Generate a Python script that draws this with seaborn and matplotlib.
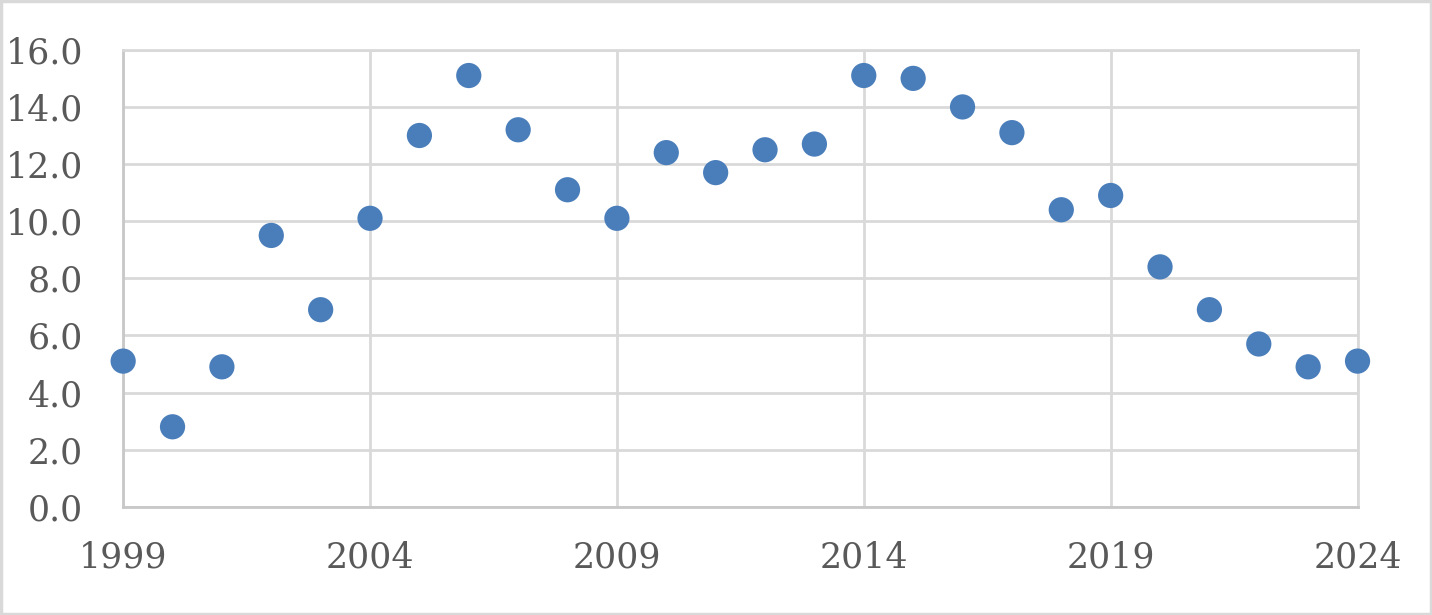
import matplotlib
matplotlib.use("Agg")
import matplotlib.pyplot as plt
import seaborn as sns
import pandas as pd
from matplotlib.patches import Rectangle

# values
years = [1999, 2000, 2001, 2002, 2003, 2004, 2005, 2006, 2007, 2008, 2009, 2010, 2011,
         2012, 2013, 2014, 2015, 2016, 2017, 2018, 2019, 2020, 2021, 2022, 2023, 2024]
values = [5.1, 2.8, 4.9, 9.5, 6.9, 10.1, 13.0, 15.1, 13.2, 11.1, 10.1, 12.4, 11.7,
          12.5, 12.7, 15.1, 15.0, 14.0, 13.1, 10.4, 10.9, 8.4, 6.9, 5.7, 4.9, 5.1]
x_ticks = [1999, 2004, 2009, 2014, 2019, 2024]
y_ticks = [0, 2, 4, 6, 8, 10, 12, 14, 16]

df = pd.DataFrame({"year": years, "value": values})

sns.set_theme(style="white")
plt.rcParams['font.family'] = ['DejaVu Serif']

fig = plt.figure(figsize=(14.32, 6.15), dpi=100)
ax = fig.add_axes([0.086, 0.176, 0.862, 0.743])

sns.scatterplot(data=df, x="year", y="value", ax=ax, s=330, color="#4a7ebb",
                edgecolor="none", zorder=3, clip_on=False)

ax.set_xlim(1999, 2024)
ax.set_ylim(0, 16)
ax.set_xticks(x_ticks)
ax.set_yticks(y_ticks)
ax.set_yticklabels([f"{v:.1f}" for v in y_ticks])
ax.grid(True, color="#d9d9d9", linewidth=2)
ax.set_axisbelow(True)
for side, sp in ax.spines.items():
    sp.set_visible(True)
    sp.set_color("#d9d9d9")
    sp.set_linewidth(2)
ax.spines['left'].set_color("#c8c8c8")
ax.spines['bottom'].set_color("#c8c8c8")
ax.tick_params(axis='both', length=0, labelsize=25, colors="#595959")
ax.tick_params(axis='x', pad=24)
ax.tick_params(axis='y', pad=29)
ax.set_xlabel("")
ax.set_ylabel("")

# light outer frame
fig.patches.append(Rectangle((0.001, 0.002), 0.998, 0.996, transform=fig.transFigure,
                             fill=False, edgecolor="#d9d9d9", linewidth=2.5))

fig.savefig("out.png", dpi=100)
